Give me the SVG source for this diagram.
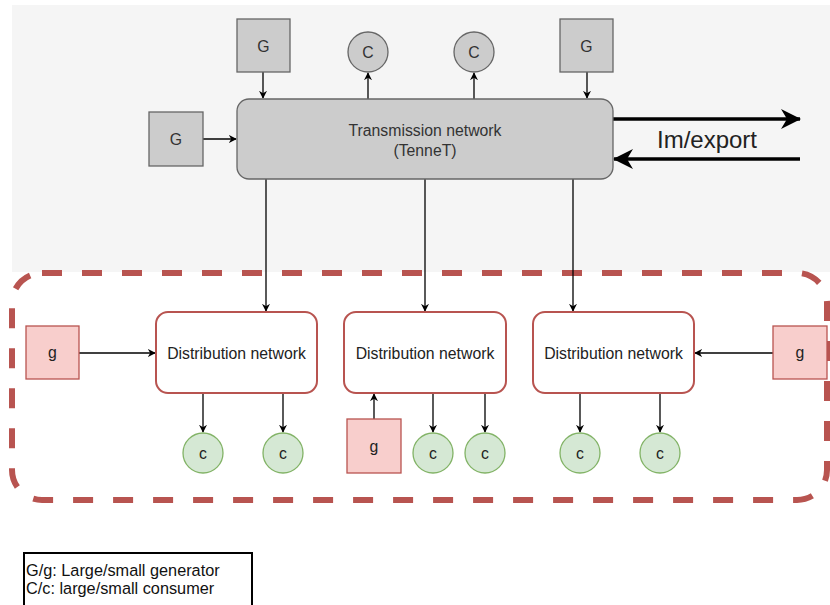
<svg xmlns="http://www.w3.org/2000/svg" width="830" height="605" viewBox="0 0 830 605">
<defs>
<style>
text{font-family:"Liberation Sans",Arial,sans-serif;fill:#333;text-anchor:middle;dominant-baseline:central}
.big{fill:#ccc;stroke:#666;stroke-width:1.3}
.dist{fill:#fff;stroke:#b85450;stroke-width:2}
.sg{fill:#f8cecc;stroke:#b85450;stroke-width:1.3}
.sc{fill:#d5e8d4;stroke:#82b366;stroke-width:1.3}
.t{font-size:15.8px}
.e{fill:none;stroke:#000;stroke-width:1.3;marker-end:url(#a)}
.thick{fill:none;stroke:#000;stroke-width:3.5;marker-end:url(#b)}
</style>
<marker id="a" viewBox="0 0 10 10" refX="9" refY="5" markerWidth="8" markerHeight="8" markerUnits="userSpaceOnUse" orient="auto"><path d="M0,0 L10,5 L0,10 L3,5 Z" fill="#000"/></marker>
<marker id="b" viewBox="0 0 10 10" refX="9.5" refY="5" markerWidth="20" markerHeight="20" markerUnits="userSpaceOnUse" orient="auto"><path d="M0,0 L10,5 L0,10 L3,5 Z" fill="#000"/></marker>
</defs>
<rect x="12" y="5" width="818" height="267" fill="#f5f5f5"/>
<rect x="12" y="273" width="815" height="227" rx="30" ry="30" fill="none" stroke="#b85450" stroke-width="6" stroke-dasharray="20 20"/>

<g id="connectors">
<path class="e" d="M263,72 V98"/>
<path class="e" d="M203,139 H236"/>
<path class="e" d="M368,99 V73"/>
<path class="e" d="M474,99 V73"/>
<path class="e" d="M587,72 V98"/>
<path class="thick" d="M613,119 H800"/>
<path class="thick" d="M800,159 H614"/>
<path class="e" d="M266,179 V311"/>
<path class="e" d="M425,179 V311"/>
<path class="e" d="M573,179 V311"/>
<path class="e" d="M79,353 H155"/>
<path class="e" d="M773,353 H695"/>
<path class="e" d="M374,419 V394"/>
<path class="e" d="M203,393 V432"/>
<path class="e" d="M283,393 V432"/>
<path class="e" d="M433,393 V432"/>
<path class="e" d="M485,393 V432"/>
<path class="e" d="M580,393 V432"/>
<path class="e" d="M660,393 V432"/>
</g>

<g id="transmission"><rect class="big" x="237" y="99" width="376" height="80" rx="12"/><text class="t" x="425" y="130">Transmission network</text><text class="t" x="425" y="150">(TenneT)</text></g>
<g id="G1"><rect class="big" x="237" y="19" width="53" height="53"/><text class="t" x="263.5" y="46">G</text></g>
<g id="G2"><rect class="big" x="149" y="112" width="54" height="54"/><text class="t" x="176" y="139">G</text></g>
<g id="G3"><rect class="big" x="560" y="19" width="53" height="53"/><text class="t" x="586.5" y="46">G</text></g>
<g id="C1"><circle class="big" cx="368" cy="52" r="20"/><text class="t" x="368" y="52">C</text></g>
<g id="C2"><circle class="big" cx="474" cy="52" r="20"/><text class="t" x="474" y="52">C</text></g>
<g id="imexport"><text x="707" y="139" style="font-size:24px;fill:#222">Im/export</text></g>

<g id="dist1"><rect class="dist" x="156" y="312" width="161" height="81" rx="12"/><text class="t" x="236.5" y="353" style="fill:#222">Distribution network</text></g>
<g id="dist2"><rect class="dist" x="344" y="312" width="162" height="81" rx="12"/><text class="t" x="425" y="353" style="fill:#222">Distribution network</text></g>
<g id="dist3"><rect class="dist" x="533" y="312" width="161" height="81" rx="12"/><text class="t" x="613.5" y="353" style="fill:#222">Distribution network</text></g>

<g id="g1"><rect class="sg" x="26" y="326" width="53" height="53"/><text class="t" x="52.5" y="352.5" style="fill:#222">g</text></g>
<g id="g2"><rect class="sg" x="773" y="326" width="54" height="53"/><text class="t" x="800" y="352.5" style="fill:#222">g</text></g>
<g id="g3"><rect class="sg" x="347" y="419" width="54" height="54"/><text class="t" x="374" y="446" style="fill:#222">g</text></g>

<g id="c1"><circle class="sc" cx="203" cy="453" r="20"/><text class="t" x="203" y="453" style="fill:#222">c</text></g>
<g id="c2"><circle class="sc" cx="283" cy="453" r="20"/><text class="t" x="283" y="453" style="fill:#222">c</text></g>
<g id="c3"><circle class="sc" cx="433" cy="453" r="20"/><text class="t" x="433" y="453" style="fill:#222">c</text></g>
<g id="c4"><circle class="sc" cx="485" cy="453" r="20"/><text class="t" x="485" y="453" style="fill:#222">c</text></g>
<g id="c5"><circle class="sc" cx="580" cy="453" r="20"/><text class="t" x="580" y="453" style="fill:#222">c</text></g>
<g id="c6"><circle class="sc" cx="660" cy="453" r="20"/><text class="t" x="660" y="453" style="fill:#222">c</text></g>

<g id="legend"><rect x="24" y="553" width="228" height="70" fill="#fff" stroke="#000" stroke-width="2"/>
<text x="26" y="576" style="font-size:16.3px;fill:#111;text-anchor:start;dominant-baseline:auto">G/g: Large/small generator</text>
<text x="26" y="594" style="font-size:16.3px;fill:#111;text-anchor:start;dominant-baseline:auto">C/c: large/small consumer</text></g>
</svg>
